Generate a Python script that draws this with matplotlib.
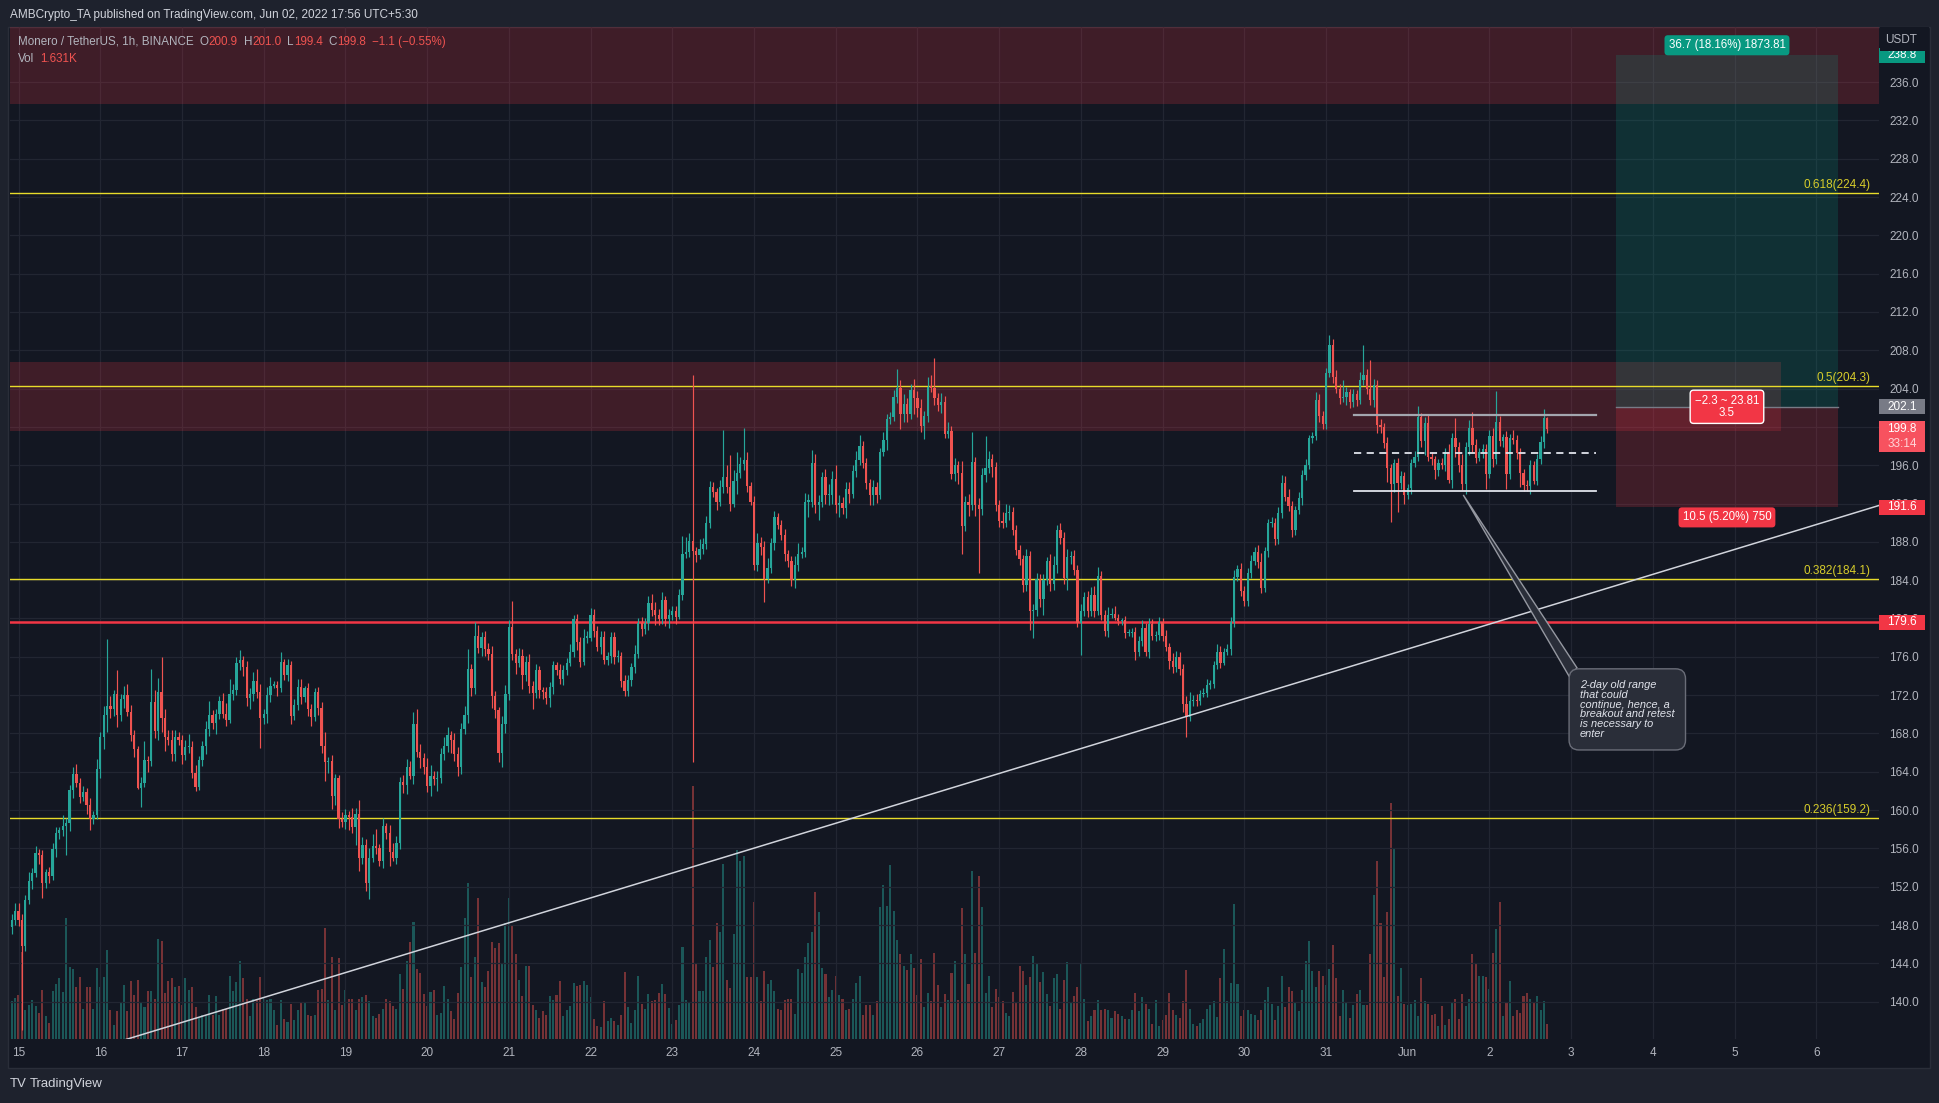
import numpy as np
import matplotlib.pyplot as plt
import matplotlib.transforms as mtransforms
from matplotlib.patches import Rectangle, Polygon

plt.rcParams['font.family'] = ['Liberation Sans', 'DejaVu Sans']

# XMR/USDT 1h candles (UTC+5:30), first candle = 14 May 22:00 -> hour -2
first_hour = -2
first_open = 147.8
closes = [
    148.5, 149.5,
    # 15 May
    148.5, 145.8, 150.6, 152.6, 153.4, 155.5, 155.3, 152.4, 153.5, 153.1, 155.9, 157.6,
    157.9, 158.3, 158.6, 162.1, 163.8, 162.8, 161.4, 161.9, 160.5, 159.1, 159.5, 164.3,
    # 16 May
    167.6, 169.9, 170.9, 170.6, 172.1, 169.9, 171.6, 172.0, 170.2, 167.8, 166.4, 162.3,
    162.8, 165.2, 165.1, 171.3, 168.3, 172.3, 169.6, 167.6, 167.3, 165.9, 167.6, 167.3,
    # 17 May
    165.7, 166.6, 166.6, 163.9, 162.4, 165.2, 166.7, 168.5, 169.9, 169.1, 170.0, 171.4,
    170.0, 169.4, 172.1, 172.5, 175.4, 175.7, 174.9, 171.7, 172.1, 173.5, 172.3, 169.6,
    # 18 May
    170.0, 172.0, 173.0, 173.1, 172.7, 175.5, 174.1, 175.1, 169.8, 171.0, 172.9, 171.8,
    172.7, 170.5, 169.7, 172.3, 170.7, 166.7, 165.0, 165.1, 161.5, 163.3, 159.1, 158.8,
    # 19 May
    159.5, 159.3, 158.2, 159.6, 155.0, 156.4, 152.4, 155.0, 156.3, 156.0, 154.7, 158.3,
    157.6, 155.6, 155.0, 156.6, 162.9, 162.6, 164.5, 163.6, 169.0, 166.1, 165.4, 164.5,
    # 20 May
    162.5, 163.6, 163.2, 163.3, 165.9, 166.7, 167.8, 167.3, 165.9, 164.5, 168.5, 169.9,
    174.7, 172.7, 178.2, 176.9, 178.1, 176.8, 176.3, 171.9, 170.4, 166.0, 169.0, 172.1,
    # 21 May
    179.1, 176.3, 175.4, 176.1, 174.1, 175.5, 173.0, 172.2, 174.6, 172.5, 172.3, 171.7,
    172.8, 175.1, 174.6, 173.7, 174.6, 175.4, 176.5, 179.9, 177.5, 175.5, 178.0, 178.0,
    # 22 May
    180.4, 178.7, 177.0, 178.1, 175.7, 176.1, 178.1, 176.0, 176.1, 173.5, 172.4, 173.6,
    174.9, 176.3, 179.5, 178.9, 179.5, 181.6, 180.9, 180.4, 179.9, 181.9, 179.9, 180.4,
    # 23 May
    180.8, 180.2, 182.5, 186.7, 186.9, 188.1, 187.0, 186.6, 187.3, 187.8, 190.0, 193.7,
    193.2, 192.2, 193.7, 194.8, 193.7, 192.0, 194.4, 195.2, 196.1, 196.5, 193.8, 192.2,
    # 24 May
    185.6, 187.9, 187.5, 184.1, 185.3, 187.9, 190.6, 189.8, 188.7, 186.7, 186.0, 184.0,
    185.6, 186.7, 186.9, 192.2, 192.2, 196.2, 191.8, 192.2, 194.8, 192.9, 192.9, 194.6,
    # 25 May
    191.8, 192.1, 191.5, 193.5, 193.0, 195.4, 196.5, 198.0, 196.2, 194.1, 192.9, 193.7,
    192.9, 197.4, 198.6, 200.8, 201.0, 203.1, 204.1, 201.4, 202.4, 201.4, 203.9, 203.0,
    # 26 May
    202.0, 200.1, 201.1, 204.2, 204.1, 203.0, 202.3, 202.6, 199.3, 199.6, 195.1, 196.0,
    195.2, 189.7, 192.2, 191.9, 196.3, 191.9, 191.4, 195.0, 195.7, 196.6, 195.8, 191.8,
    # 27 May
    190.2, 190.0, 191.0, 191.1, 189.2, 187.2, 186.2, 183.5, 186.5, 180.8, 180.9, 184.1,
    182.0, 184.0, 186.0, 183.6, 185.6, 189.2, 188.4, 184.2, 186.4, 186.5, 185.1, 179.5,
    # 28 May
    180.8, 182.2, 180.8, 182.5, 180.8, 184.4, 180.4, 178.7, 180.4, 180.5, 180.1, 179.7,
    179.8, 178.5, 178.5, 178.6, 176.5, 177.6, 179.0, 176.5, 179.4, 178.2, 178.3, 179.6,
    # 29 May
    178.2, 177.0, 175.6, 174.9, 176.0, 174.7, 171.1, 169.7, 171.4, 171.5, 171.4, 172.1,
    172.2, 173.1, 173.2, 175.1, 176.5, 175.4, 176.5, 176.8, 179.6, 184.3, 185.2, 182.9,
    # 30 May
    181.8, 184.8, 186.0, 186.9, 185.9, 183.2, 187.0, 190.0, 190.0, 188.3, 191.0, 194.1,
    192.7, 191.7, 189.2, 191.3, 192.6, 195.0, 196.0, 198.8, 199.0, 202.8, 201.1, 200.3,
    # 31 May
    205.6, 208.6, 205.2, 204.0, 203.0, 203.1, 203.6, 202.6, 203.4, 202.8, 204.9, 205.4,
    204.0, 202.8, 204.4, 200.2, 200.0, 198.3, 195.7, 194.0, 196.2, 194.1, 194.9, 192.9,
    # 1 Jun
    193.6, 196.2, 196.9, 201.0, 198.5, 200.4, 196.9, 196.6, 195.5, 196.2, 196.0, 197.4,
    194.5, 198.8, 197.9, 196.0, 194.0, 197.9, 199.9, 198.1, 196.8, 197.4, 197.7, 195.1,
    # 2 Jun
    199.1, 196.7, 200.5, 198.5, 198.9, 195.1, 198.8, 198.6, 197.3, 195.2, 193.9, 193.8,
    196.0, 194.4, 196.6, 198.4, 200.9, 199.8,
]

# wick length above the body / below the body
upper_wicks = [
    0.6, 0.8,
    0.8, 0.6, 0.5, 0.9, 0.6, 0.7, 0.4, 0.5, 0.3, 0.6, 0.7, 0.6,
    0.3, 1.2, 0.6, 0.5, 0.7, 1.0, 0.5, 0.6, 0.4, 0.8, 0.4, 1.0,
    0.6, 1.0, 7.0, 1.0, 0.4, 2.5, 0.5, 1.0, 1.2, 0.8, 0.6, 0.3,
    0.6, 2.0, 0.4, 3.4, 1.2, 1.5, 3.7, 1.0, 0.8, 1.1, 0.8, 0.6,
    0.5, 0.7, 1.3, 0.6, 0.8, 0.4, 0.5, 0.8, 1.5, 0.5, 0.6, 0.5,
    0.8, 1.2, 1.6, 0.7, 0.6, 1.0, 0.4, 0.7, 0.6, 0.9, 1.2, 0.9,
    0.5, 0.8, 0.9, 0.4, 0.4, 1.0, 0.3, 0.7, 0.5, 0.6, 0.8, 0.8,
    0.3, 0.6, 0.6, 0.4, 0.5, 0.6, 1.4, 0.4, 0.6, 0.5, 0.4, 0.7,
    0.6, 0.4, 0.9, 0.6, 1.5, 0.8, 0.6, 1.0, 1.2, 1.7, 0.5, 0.9,
    0.4, 0.8, 1.0, 0.7, 0.6, 0.8, 0.8, 0.6, 1.2, 1.5, 0.8, 0.6,
    0.9, 1.1, 0.5, 0.8, 0.6, 0.9, 0.9, 0.5, 0.7, 0.7, 0.6, 1.0,
    2.1, 0.6, 1.4, 1.1, 0.5, 0.6, 0.6, 0.8, 0.5, 0.4, 0.8, 1.0,
    0.7, 2.7, 0.5, 0.8, 0.7, 0.6, 0.8, 0.5, 0.6, 0.4, 0.4, 0.5,
    0.6, 0.5, 0.4, 0.6, 0.5, 0.5, 0.8, 0.5, 0.6, 0.6, 0.9, 0.7,
    0.7, 0.6, 0.5, 0.6, 0.6, 0.4, 0.5, 0.5, 0.6, 0.4, 0.6, 0.5,
    0.5, 0.9, 0.5, 0.7, 0.6, 0.7, 1.0, 0.8, 0.6, 0.9, 0.5, 0.6,
    0.5, 0.5, 0.6, 1.9, 1.6, 0.8, 17.3, 0.5, 1.0, 0.6, 0.7, 0.7,
    0.6, 0.4, 0.8, 4.9, 1.2, 3.4, 1.1, 2.2, 0.8, 3.4, 0.9, 0.5,
    0.6, 1.0, 0.6, 0.6, 1.0, 0.5, 0.6, 0.4, 0.5, 0.6, 0.4, 0.5,
    0.9, 1.2, 0.6, 0.9, 0.8, 1.4, 1.0, 0.7, 0.5, 0.8, 1.1, 0.8,
    1.4, 0.8, 0.6, 0.7, 0.7, 0.6, 1.0, 1.2, 0.5, 0.6, 0.5, 0.8,
    0.6, 0.4, 0.9, 0.5, 0.6, 0.8, 1.9, 0.8, 1.0, 0.6, 0.6, 1.1,
    0.8, 0.9, 0.6, 1.0, 1.2, 3.1, 0.5, 0.9, 0.6, 0.9, 0.5, 0.8,
    0.4, 1.2, 0.6, 0.8, 3.2, 0.6, 0.7, 0.7, 3.3, 0.9, 0.6, 0.5,
    0.6, 0.9, 1.0, 0.8, 0.5, 0.6, 0.5, 0.4, 0.8, 0.5, 0.6, 0.7,
    0.5, 0.6, 0.4, 0.7, 0.9, 0.6, 0.8, 0.6, 0.9, 0.5, 0.7, 0.5,
    0.7, 0.6, 0.7, 0.8, 0.9, 1.0, 0.6, 0.5, 0.8, 0.6, 0.8, 0.4,
    0.3, 0.5, 0.4, 0.4, 0.5, 0.6, 0.8, 0.5, 0.6, 0.5, 0.4, 0.6,
    0.5, 0.6, 0.4, 0.8, 0.6, 0.5, 0.6, 0.8, 0.9, 0.5, 0.6, 0.4,
    0.5, 0.6, 0.4, 0.5, 0.8, 0.6, 0.4, 0.5, 0.6, 0.8, 0.4, 0.6,
    0.5, 0.5, 0.6, 0.6, 0.8, 0.9, 0.5, 0.4, 0.6, 0.5, 0.6, 0.9,
    0.8, 0.8, 0.6, 0.4, 0.6, 0.5, 0.6, 0.4, 0.5, 0.8, 0.6, 0.6,
    0.6, 1.0, 0.6, 0.7, 0.5, 1.8, 0.6, 0.4, 0.6, 0.5, 0.8, 3.2,
    0.6, 3.0, 0.6, 0.5, 0.6, 0.4, 0.6, 0.4, 0.5, 0.6, 0.5, 0.4,
    0.4, 0.5, 0.6, 1.2, 0.5, 0.6, 0.9, 0.5, 0.4, 0.5, 0.6, 0.4,
    0.8, 0.6, 2.1, 0.5, 1.2, 0.5, 0.8, 1.7, 0.6, 0.4, 0.5, 0.5,
    0.6, 0.8, 3.2, 0.6, 0.4, 0.7, 0.5, 0.9, 0.6, 0.5, 0.4, 0.6,
    0.5, 0.4, 0.6, 0.6, 1.0, 0.1,
]
lower_wicks = [
    0.7, 0.5,
    0.6, 8.8, 0.5, 0.4, 0.8, 0.4, 0.9, 1.6, 0.5, 0.7, 0.4, 0.8,
    0.6, 0.6, 3.0, 0.8, 0.8, 0.4, 0.7, 0.5, 0.9, 1.2, 0.6, 0.4,
    1.0, 1.2, 1.8, 1.0, 0.8, 1.2, 0.6, 0.9, 0.4, 0.6, 0.9, 0.1,
    2.0, 0.4, 1.1, 0.5, 0.8, 1.0, 1.5, 1.4, 0.5, 0.8, 0.8, 0.5,
    0.9, 0.5, 0.6, 0.6, 0.4, 0.3, 0.6, 0.8, 0.8, 0.6, 1.2, 0.5,
    0.4, 0.6, 0.3, 0.6, 0.5, 0.8, 0.9, 0.8, 1.2, 0.7, 0.6, 3.1,
    0.6, 0.9, 0.7, 0.3, 0.8, 0.4, 0.5, 0.6, 0.8, 0.4, 0.6, 0.7,
    0.5, 0.7, 0.9, 0.4, 0.8, 0.7, 2.0, 1.1, 1.4, 1.0, 1.0, 0.6,
    0.8, 1.4, 0.6, 1.8, 1.4, 0.6, 0.8, 1.7, 0.4, 0.6, 0.5, 0.7,
    0.6, 1.4, 0.3, 0.6, 0.7, 0.8, 0.9, 0.4, 0.9, 0.6, 1.0, 0.7,
    0.6, 1.0, 0.6, 1.2, 0.5, 0.7, 0.6, 1.3, 0.8, 0.9, 0.7, 0.6,
    0.8, 0.8, 0.6, 0.5, 0.8, 0.7, 0.6, 1.2, 0.8, 1.0, 1.5, 1.0,
    0.6, 0.6, 1.2, 0.5, 1.5, 0.6, 0.8, 1.6, 0.5, 0.8, 0.7, 0.6,
    0.9, 0.7, 0.5, 0.5, 0.6, 0.5, 0.4, 0.5, 0.8, 0.6, 0.4, 0.6,
    0.4, 0.6, 0.4, 0.7, 0.5, 0.6, 0.7, 0.8, 0.5, 0.6, 0.5, 0.5,
    0.6, 0.6, 0.4, 0.7, 0.5, 0.7, 0.6, 1.1, 0.6, 0.5, 0.7, 0.9,
    0.6, 0.8, 0.3, 0.6, 0.4, 0.5, 22.0, 0.7, 0.4, 0.6, 0.5, 0.6,
    0.5, 0.9, 0.5, 0.6, 0.6, 0.8, 0.4, 1.4, 0.5, 0.6, 0.6, 0.4,
    0.5, 0.6, 0.9, 2.4, 0.4, 0.5, 0.7, 0.5, 0.5, 0.7, 0.6, 0.6,
    0.8, 0.6, 0.4, 0.5, 1.6, 0.6, 0.8, 1.5, 0.6, 0.9, 1.1, 0.9,
    0.8, 1.2, 0.6, 1.0, 0.9, 0.4, 0.6, 0.5, 0.5, 0.6, 1.0, 1.0,
    0.8, 0.4, 0.4, 1.0, 0.5, 0.4, 0.6, 1.6, 0.9, 0.9, 0.6, 1.6,
    1.0, 0.6, 1.4, 0.6, 0.5, 0.7, 0.6, 0.8, 0.5, 0.5, 0.5, 0.7,
    1.2, 3.0, 0.6, 1.2, 0.6, 1.2, 6.7, 0.6, 0.7, 0.5, 1.0, 0.6,
    0.6, 0.6, 0.4, 0.7, 0.5, 0.6, 0.6, 0.7, 0.6, 2.0, 2.8, 0.6,
    0.8, 1.6, 0.5, 0.7, 0.6, 0.8, 0.6, 0.6, 1.2, 0.7, 0.6, 0.4,
    3.3, 0.5, 0.6, 0.5, 0.6, 0.4, 0.6, 0.5, 0.6, 0.4, 0.3, 0.4,
    0.4, 0.5, 0.3, 0.4, 0.8, 0.4, 0.5, 0.4, 0.6, 0.4, 0.5, 0.5,
    0.6, 0.4, 0.9, 0.6, 0.5, 0.6, 0.9, 2.1, 0.4, 0.5, 0.5, 0.4,
    0.3, 0.4, 0.5, 0.5, 0.4, 0.6, 0.3, 0.3, 0.6, 0.5, 0.4, 0.5,
    0.5, 0.5, 0.6, 0.4, 0.6, 0.5, 0.4, 0.6, 0.5, 0.6, 0.5, 0.5,
    0.4, 0.5, 0.7, 0.5, 0.4, 0.8, 0.5, 0.4, 0.5, 0.4, 0.6, 0.5,
    0.5, 0.4, 0.6, 0.5, 0.6, 0.4, 0.8, 0.6, 0.5, 0.6, 0.4, 0.5,
    0.6, 0.5, 0.7, 0.8, 0.6, 0.5, 1.5, 3.9, 0.8, 3.0, 0.6, 0.9,
    0.4, 0.6, 0.4, 0.5, 0.6, 1.4, 0.5, 0.6, 0.9, 0.6, 0.4, 0.6,
    0.4, 0.9, 1.0, 0.7, 0.6, 1.0, 0.8, 0.7, 0.6, 0.4, 0.6, 1.6,
    0.4, 0.9, 0.6, 0.5, 0.6, 1.6, 0.5, 0.4, 0.7, 1.5, 0.6, 0.5,
    0.8, 0.4, 0.5, 0.5, 0.6, 0.4,
]

# volume, thousands of XMR
volumes = [
    4.1, 4.5, 4.8, 9.5, 3.1, 3.7, 4.2, 3.6, 2.8, 5.3,
    2.5, 1.7, 5.2, 6.0, 6.6, 5.1, 13.2, 7.8, 7.6, 5.7,
    6.7, 3.3, 5.7, 5.7, 3.3, 7.7, 5.7, 6.7, 9.7, 3.2,
    1.5, 3.0, 3.9, 5.9, 3.0, 6.3, 4.8, 6.4, 3.9, 3.5,
    5.2, 5.2, 4.3, 10.9, 10.7, 5.0, 6.3, 6.6, 5.6, 5.8,
    3.7, 6.6, 5.3, 5.7, 3.5, 2.3, 2.6, 2.5, 4.8, 2.6,
    4.7, 2.6, 3.3, 3.3, 6.8, 5.2, 6.2, 8.5, 6.6, 4.4,
    2.5, 4.3,
    4.3, 6.7, 4.6, 4.2, 4.3, 3.2, 1.5, 4.2, 2.2, 1.9,
    3.8, 2.1, 3.1, 3.9, 3.9, 2.6, 2.5, 2.6, 5.3, 5.4,
    12.1, 4.2, 8.9, 3.2, 8.8, 3.7, 5.3, 4.3, 4.4, 3.2,
    4.4, 4.6, 4.8, 4.1, 2.5, 2.3, 2.7, 3.3, 4.3, 4.1,
    3.6, 3.3, 7.1, 5.4, 8.5, 10.5, 12.7, 7.6, 7.2, 4.9,
    3.6, 5.1, 5.3, 2.6, 2.8, 5.8, 4.3, 3.0, 2.2, 5.0,
    7.8, 13.2, 17.0, 6.7, 8.9, 15.3, 6.2, 5.7, 7.4, 10.5,
    9.9, 10.4, 8.2, 12.6, 15.3, 12.4, 9.2, 6.4,
    4.7, 7.9, 7.9, 3.7, 3.2, 2.3, 3.0, 2.6, 4.7, 4.2,
    4.8, 6.3, 2.5, 3.2, 3.6, 6.1, 5.8, 5.9, 6.3, 5.9,
    4.6, 2.2, 1.4, 1.3, 4.1, 2.0, 2.3, 2.0, 1.5, 2.6,
    7.3, 3.5, 1.7, 3.2, 6.8, 3.8, 3.3, 4.9, 4.1, 4.2,
    5.0, 6.0, 4.9, 3.4, 1.6, 2.1, 3.7, 10.0, 4.2, 4.0,
    27.5, 8.2, 5.2, 5.2, 8.9, 10.8, 7.8, 12.6, 11.6, 19.0,
    6.4, 5.5, 11.4, 20.5, 19.3, 19.9, 6.7, 6.7, 14.9, 6.7,
    4.1, 7.4, 6.0, 6.4, 5.2,
    3.3, 3.2, 4.2, 4.3, 4.3, 2.7, 7.6, 7.2, 8.9, 10.4,
    11.6, 16.0, 13.8, 7.7, 7.1, 4.6, 5.3, 6.9, 4.8, 4.3,
    3.2, 3.3, 4.3, 6.1, 6.8, 2.6, 3.7, 3.7, 2.6, 4.1,
    14.4, 16.7, 14.5, 18.9, 13.9, 10.8, 9.2, 7.9, 7.5, 9.2,
    7.7, 4.8, 8.7, 3.5, 5.0, 4.1, 9.4, 5.9, 3.5, 4.9,
    4.2, 7.2, 8.5, 4.2, 14.2, 9.2, 6.0, 18.3, 9.4, 17.7,
    14.4, 5.0, 6.8, 3.5, 5.4, 4.6, 4.1, 2.8, 2.5, 5.1,
    4.0, 7.9, 7.4, 5.9, 6.7,
    9.0, 8.3, 6.2, 7.3, 4.9, 3.6, 6.6, 7.1, 3.3, 6.4,
    8.4, 4.0, 4.7, 5.6, 8.2, 4.3, 2.0, 2.5, 3.2, 4.2,
    3.1, 3.3, 3.1, 2.3, 3.0, 2.7, 2.5, 2.2, 2.2, 3.1,
    5.0, 3.0, 4.6, 3.8, 3.3, 1.6, 4.2, 1.4, 2.1, 2.6,
    5.0, 3.1, 2.6, 2.3, 4.1, 7.5, 3.3, 1.6, 1.4, 1.7,
    2.2, 3.3, 3.7, 4.1, 2.4, 6.6, 9.8, 4.1, 6.1, 14.7,
    6.0, 2.5, 3.2, 3.1, 2.7, 2.6, 2.1, 3.1, 4.2, 5.7,
    3.8, 2.1, 3.6, 6.8, 3.5,
    5.6, 5.2, 4.0, 3.0, 5.3, 8.5, 10.6, 7.4, 5.6, 7.4,
    6.9, 5.9, 7.6, 10.2, 6.6, 2.5, 5.3, 4.0, 2.3, 3.7,
    4.9, 5.3, 3.7, 3.7, 9.2, 15.7, 19.4, 12.6, 6.7, 13.8,
    25.6, 20.8, 4.7, 7.7, 3.8, 3.7, 3.8, 4.2, 2.5, 6.6,
    4.1, 3.8, 2.6, 2.7, 1.4, 3.6, 1.5, 2.2, 3.9, 4.3,
    2.2, 4.9, 3.6, 4.3, 9.2, 8.1, 6.9, 6.9, 6.7, 5.4,
    9.4, 12.0, 14.9, 2.5, 3.9, 6.3, 2.5, 3.2, 2.8, 4.7,
    5.0, 4.3, 4.0, 4.7, 3.1, 4.1, 1.6,
]

day_hours = list(range(0, 529, 24))
day_labels = [str(d) for d in range(15, 32)] + ['Jun', '2', '3', '4', '5', '6']
price_ticks = np.arange(140, 237, 4)

fib_ratios = ['0.618', '0.5', '0.382', '0.236']
fib_prices = [224.4, 204.3, 184.1, 159.2]
support_price = 179.6
# supply zones: (low, high, end hour)
zone_lows = [233.75, 199.6]
zone_highs = [250.0, 206.8]
zone_ends = [560.0, 517.6]
trend_hours = [20.0, 546.4]
trend_prices = [134.8, 191.8]
range_hours = [392.3, 463.3]
range_top, range_mid, range_bottom = 201.2, 197.3, 193.3
pos_hours = [469.2, 534.3]
entry, target, stop = 202.1, 238.8, 191.6

W, H = 1940, 1103
xmin, xmax = -2.5, 546.4
ymin, ymax = 136.1, 241.75
bg = '#131722'
up_col, dn_col = '#26a69a', '#ef5350'
text_col = '#b2b5be'

fig = plt.figure(figsize=(W / 100, H / 100), dpi=100, facecolor='#1e222d')
fig.add_artist(Rectangle((8 / W, 1 - 1068 / H), 1922 / W, 1041 / H, transform=fig.transFigure,
                         facecolor=bg, edgecolor='#2a2e39', lw=1, zorder=-5))

rect = [10 / W, 1 - 1039 / H, 1869 / W, 1012 / H]
ax_vol = fig.add_axes(rect, zorder=1)
ax_vol.axis('off')
ax = fig.add_axes(rect, zorder=2)
ax.patch.set_alpha(0)

# candles
c = np.array(closes)
o = np.r_[first_open, c[:-1]]
x = np.arange(len(c)) + first_hour
top = np.maximum(o, c)
bot = np.minimum(o, c)
highs = top + np.array(upper_wicks)
lows = bot - np.array(lower_wicks)
rising = c >= o
cols = np.where(rising, up_col, dn_col)
ax.vlines(x, lows, highs, colors=cols, lw=0.85, zorder=4)
ax.bar(x, np.maximum(top - bot, 0.12), bottom=bot, width=0.66, color=cols, lw=0, zorder=5)

ax_vol.bar(x, volumes, width=0.6, color=cols, alpha=0.45, lw=0)
ax_vol.set_xlim(xmin, xmax)
ax_vol.set_ylim(0, 110)

ax.set_xlim(xmin, xmax)
ax.set_ylim(ymin, ymax)
for s in ax.spines.values():
    s.set_visible(False)
ax.set_axisbelow(True)
ax.grid(True, color='#222632', lw=0.9)
ax.yaxis.tick_right()
ax.set_yticks(price_ticks, [f'{v:.1f}' for v in price_ticks])
ax.set_xticks(day_hours, day_labels)
ax.tick_params(axis='y', colors=text_col, length=0, pad=7.5, labelsize=8.5)
ax.tick_params(axis='x', colors=text_col, length=0, pad=5.8, labelsize=8.5)

# supply zones
for lo, hi, end in zip(zone_lows, zone_highs, zone_ends):
    ax.add_patch(Rectangle((xmin, lo), end - xmin, hi - lo, facecolor='#f23645', alpha=0.2, lw=0, zorder=1))

# fib levels
for r, p in zip(fib_ratios, fib_prices):
    ax.axhline(p, color='#e8dc2a', lw=1.0, zorder=3)
    ax.annotate(f'{r}({p})', (544.0, p), xytext=(0, 2), textcoords='offset pixels',
                ha='right', va='bottom', color='#d7cd2b', fontsize=8.5, zorder=7)
ax.axhline(support_price, color='#f23645', lw=1.8, zorder=3)

# trendline
ax.plot(trend_hours, trend_prices, color='#d1d4dc', lw=1.1, zorder=6)

# range
ax.plot(range_hours, [range_top] * 2, color='#a3a6af', lw=1.6, zorder=6)
ax.plot(range_hours, [range_bottom] * 2, color='#e0e3eb', lw=1.3, zorder=6)
ax.plot(range_hours, [range_mid] * 2, color='#e0e3eb', lw=1.3, dashes=(4, 3), zorder=6)

# long position tool
ax.add_patch(Rectangle((pos_hours[0], entry), pos_hours[1] - pos_hours[0], target - entry,
                       facecolor='#089981', alpha=0.2, lw=0, zorder=2))
ax.add_patch(Rectangle((pos_hours[0], stop), pos_hours[1] - pos_hours[0], entry - stop,
                       facecolor='#f23645', alpha=0.2, lw=0, zorder=2))
ax.plot(pos_hours, [entry] * 2, color='#787b86', lw=1, zorder=3)
pos_mid = sum(pos_hours) / 2
ax.annotate('36.7 (18.16%) 1873.81', (pos_mid, target), xytext=(0, 10), textcoords='offset pixels',
            ha='center', va='center', color='white', fontsize=8.3, zorder=9,
            bbox=dict(boxstyle='round,pad=0.35,rounding_size=0.3', fc='#089981', ec='none'))
ax.annotate('10.5 (5.20%) 750', (pos_mid, stop), xytext=(0, -10), textcoords='offset pixels',
            ha='center', va='center', color='white', fontsize=8.3, zorder=9,
            bbox=dict(boxstyle='round,pad=0.35,rounding_size=0.3', fc='#f23645', ec='none'))
ax.annotate('\u22122.3 ~ 23.81\n3.5', (pos_mid, entry), ha='center', va='center', color='white',
            fontsize=8.3, linespacing=1.0, zorder=9,
            bbox=dict(boxstyle='round,pad=0.4,rounding_size=0.3', fc='#f23645', ec='white', lw=1))

# callout
anchor = (424.3, 192.9)
ax.add_patch(Polygon([anchor, (457.7, 174.85), (455.5, 173.9)], closed=True,
                     facecolor='#2a2e39', edgecolor='#9598a1', lw=1, zorder=7))
ax.text(458.6, 173.6, '2-day old range\nthat could\ncontinue, hence, a\nbreakout and retest\nis necessary to\nenter',
        ha='left', va='top', color='#e0e3eb', fontsize=7.9, style='italic', linespacing=0.98, zorder=8,
        bbox=dict(boxstyle='round,pad=1.0,rounding_size=0.9', fc='#2a2e39', ec='#6a6d78', lw=1))

# price axis tags
blend = mtransforms.blended_transform_factory(ax.transAxes, ax.transData)
px_per_price = 1012 / (ymax - ymin)
tag_w = 46 / 1869


def price_tag(price, label, fc, above=7.5, below=7.5):
    ax.add_patch(Rectangle((1.0, price - below / px_per_price), tag_w, (above + below) / px_per_price,
                           transform=blend, facecolor=fc, lw=0, clip_on=False, zorder=8))
    ax.text(1.0 + tag_w / 2, price, label, transform=blend, ha='center', va='center',
            color='white', fontsize=8.5, clip_on=False, zorder=9)


price_tag(target, '238.8', '#089981')
price_tag(entry, '202.1', '#787b86')
price_tag(stop, '191.6', '#f23645')
price_tag(support_price, '179.6', '#f23645')
price_tag(closes[-1], '199.8', '#f7525f', above=8, below=23)
ax.annotate('33:14', (1.0 + tag_w / 2, closes[-1]), xycoords=blend, xytext=(0, -15),
            textcoords='offset pixels', ha='center', va='center', color='#ffd4d7', fontsize=8.5,
            annotation_clip=False, zorder=9)

fig.add_artist(Rectangle((1880 / W, 1 - 51 / H), 49 / W, 24 / H, transform=fig.transFigure,
                         facecolor=bg, lw=0, zorder=10))
fig.text(1901 / W, 1 - 40 / H, 'USDT', ha='center', va='center', color=text_col, fontsize=8.5, zorder=11)

# header texts
renderer = fig.canvas.get_renderer()


def text_runs(x_px, y_px, runs, size):
    for s, col, gap in runs:
        x_px += gap
        t = fig.text(x_px / W, 1 - y_px / H, s, color=col, fontsize=size, va='center', ha='left', zorder=11)
        x_px += t.get_window_extent(renderer).width


fig.text(10 / W, 1 - 15 / H, 'AMBCrypto_TA published on TradingView.com, Jun 02, 2022 17:56 UTC+5:30',
         color='#d1d4dc', fontsize=8.5, va='center', ha='left')
red = '#ef5350'
text_runs(18, 42, [('Monero / TetherUS, 1h, BINANCE', text_col, 0), ('O', text_col, 6), ('200.9', red, 0),
                   ('H', text_col, 6), ('201.0', red, 0), ('L', text_col, 6), ('199.4', red, 0),
                   ('C', text_col, 6), ('199.8', red, 0), ('\u22121.1 (\u22120.55%)', red, 6)], 8.4)
text_runs(18, 59, [('Vol', text_col, 0), ('1.631K', red, 6)], 8.4)

text_runs(10, 1084, [('TV', '#d1d4dc', 0), ('TradingView', '#d1d4dc', 3)], 9.5)

fig.savefig('out.png', dpi=100, facecolor=fig.get_facecolor())
